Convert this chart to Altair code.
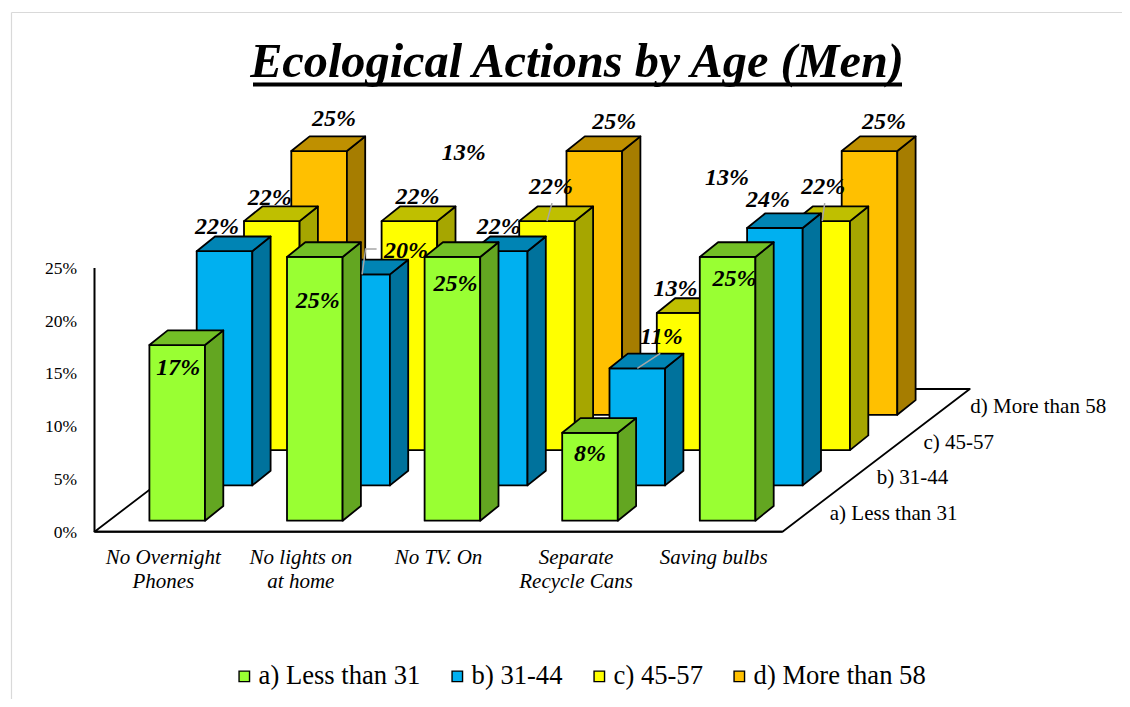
import altair as alt
import pandas as pd

# ---------- chart values ----------
CATEGORIES = ["No Overnight\nPhones", "No lights on\nat home", "No TV. On", "Separate\nRecycle Cans", "Saving bulbs"]
SERIES = ["a) Less than 31", "b) 31-44", "c) 45-57", "d) More than 58"]
VALUES_A = [16.65, 25.0, 25.0, 8.33, 25.0]
VALUES_B = [22.2, 20.0, 22.2, 11.1, 24.4]
VALUES_C = [21.7, 21.7, 21.7, 13.0, 21.7]
VALUES_D = [25.0, 13.0, 25.0, 13.0, 25.0]
LABELS_A = ["17%", "25%", "25%", "8%", "25%"]
LABELS_B = ["22%", "20%", "22%", "11%", "24%"]
LABELS_C = ["22%", "22%", "22%", "13%", "22%"]
LABELS_D = ["25%", "13%", "25%", "13%", "25%"]
Y_TICKS = [0, 5, 10, 15, 20, 25]
TITLE = "Ecological Actions by Age (Men)"

# ---------- colours ----------
FRONT = ["#99FF33", "#00B0F0", "#FFFF00", "#FFC000"]
TOP = ["#73BF26", "#0084B4", "#BFBF00", "#BF9000"]
SIDE = ["#63A621", "#00729C", "#A6A600", "#A67D00"]

# ---------- 3-D projection (one x unit = one category, one y unit = one percent) ----------
PX_X, PX_Y = 137.6, 10.55          # pixels per unit
ORIGIN_X, ORIGIN_Y = 86.5, 523.7   # axis origin inside the view
W, H = 1114, 691
SLOT_X, SLOT_Y = 47.3 / PX_X, 35.3 / PX_Y      # shift between two series rows
BAR_W = 55.6 / PX_X
DEPTH_X, DEPTH_Y = 18.3 / PX_X, 14.7 / PX_Y    # depth of one bar
START_X = 54.9 / PX_X                          # first bar, first row, from the origin
START_Y = 11.0 / PX_Y
FLOOR_X, FLOOR_Y = 187.3 / PX_X, 142.7 / PX_Y  # full depth of the floor
N_CAT = len(CATEGORIES)

xscale = alt.Scale(domain=[-ORIGIN_X / PX_X, (W - ORIGIN_X) / PX_X], range=[0, W], nice=False, zero=False)
yscale = alt.Scale(domain=[(ORIGIN_Y - H) / PX_Y, ORIGIN_Y / PX_Y], range=[H, 0], nice=False, zero=False)
X = alt.X("x:Q", scale=xscale, axis=None)
Y = alt.Y("y:Q", scale=yscale, axis=None, stack=None)

ALL_VALUES = [VALUES_A, VALUES_B, VALUES_C, VALUES_D]
ALL_LABELS = [LABELS_A, LABELS_B, LABELS_C, LABELS_D]

# label shift from the front-top centre of each bar, in pixels
NUDGE = [
    [(1, 23), (3, 44), (3, 27), (0, 21), (7, 22)],
    [(-7.5, -24), (44, -23), (-1, -24), (24, -31), (-7, -28)],
    [(-2, -23), (8, -24), (4, -34), (-9, -24), (1, -34)],
    [(15, -32), (7, -125), (20, -29), (-5, -100), (14.5, -29)],
]
# leader lines: (series, category, path shifts from the front-top centre, in pixels)
LEADERS = [
    (1, 1, [(0, 0), (3.5, -25.5), (14.5, -25.5)]),
    (2, 2, [(0, 0), (5, -18)]),
    (1, 3, [(0, 0), (23, -15)]),
    (2, 4, [(0, 0), (2.5, -18)]),
]


def bar_x0(s, c):
    return START_X + c + s * SLOT_X


def bar_base(s):
    return START_Y + s * SLOT_Y


# ---------- polygons, drawn from the back row to the front row ----------
rows = []
pid = 0


def add(points, fill):
    global pid
    pid += 1
    for px, py, py2 in points:
        rows.append({"poly": pid, "x": px, "y": py, "y2": py2, "fill": fill})


# floor
add([(0, 0, 0), (FLOOR_X, 0, FLOOR_Y), (N_CAT, 0, FLOOR_Y), (N_CAT + FLOOR_X, FLOOR_Y, FLOOR_Y)], "#FFFFFF")
for s in reversed(range(len(SERIES))):
    for c in range(N_CAT):
        x0 = bar_x0(s, c)
        x1 = x0 + BAR_W
        b = bar_base(s)
        t = b + ALL_VALUES[s][c]
        add([(x0, b, t), (x1, b, t)], FRONT[s])
        add([(x1, b, t), (x1 + DEPTH_X, b + DEPTH_Y, t + DEPTH_Y)], SIDE[s])
        add([(x0, t, t), (x0 + DEPTH_X, t, t + DEPTH_Y), (x1, t, t + DEPTH_Y), (x1 + DEPTH_X, t + DEPTH_Y, t + DEPTH_Y)], TOP[s])
polys = pd.DataFrame(rows)

bars = alt.Chart(polys).mark_area(orient="vertical", stroke="#000000", strokeWidth=1.8, strokeJoin="round").encode(
    x=X,
    y=Y,
    y2="y2:Q",
    detail="poly:N",
    fill=alt.Fill("fill:N", scale=None, legend=None),
)

# ---------- value axis ----------
axis_line = alt.Chart(pd.DataFrame({"x": [0], "y": [0], "y2": [max(Y_TICKS)]})).mark_rule(
    color="#000000", strokeWidth=2
).encode(x=X, y=Y, y2="y2:Q")
tick_df = pd.DataFrame({
    "x": [-17.5 / PX_X] * len(Y_TICKS),
    "y": Y_TICKS,
    "t": [f"{v}%" for v in Y_TICKS],
})
tick_labels = alt.Chart(tick_df).mark_text(
    font="Liberation Serif", fontSize=17.5, color="#000000", align="right", baseline="middle", dy=1
).encode(x=X, y=Y, text="t:N")
floor_front = alt.Chart(pd.DataFrame({"x": [0, N_CAT], "y": [0, 0]})).mark_line(color="#000000", strokeWidth=2).encode(x=X, y=Y)

# ---------- data labels ----------
lab = []
for s in range(len(SERIES)):
    for c in range(N_CAT):
        nx, ny = NUDGE[s][c]
        lab.append({
            "x": bar_x0(s, c) + BAR_W / 2 + nx / PX_X,
            "y": bar_base(s) + ALL_VALUES[s][c] - ny / PX_Y,
            "t": ALL_LABELS[s][c],
            "o": s,
        })
data_labels = alt.Chart(pd.DataFrame(lab)).mark_text(
    font="Liberation Serif", fontSize=24, fontWeight="bold", fontStyle="italic", color="#000000", baseline="middle"
).encode(x=X, y=Y, text="t:N")

# ---------- leader lines ----------
lead = []
for i, (s, c, path) in enumerate(LEADERS):
    for j, (nx, ny) in enumerate(path):
        lead.append({
            "id": i,
            "j": j,
            "x": bar_x0(s, c) + BAR_W / 2 + nx / PX_X,
            "y": bar_base(s) + ALL_VALUES[s][c] - ny / PX_Y,
        })
leaders = alt.Chart(pd.DataFrame(lead)).mark_line(color="#A6A6A6", strokeWidth=1.5).encode(
    x=X, y=Y, detail="id:N", order="j:Q"
)

# ---------- category and depth labels ----------
cat_df = pd.DataFrame({"x": [c + 0.5 for c in range(N_CAT)], "y": [-1.45] * N_CAT, "t": CATEGORIES})
cat_labels = alt.Chart(cat_df).mark_text(
    font="Liberation Serif", fontSize=21, fontStyle="italic", color="#000000", baseline="top",
    align="center", lineBreak="\n", lineHeight=24,
).encode(x=X, y=Y, text="t:N")

depth_df = pd.DataFrame({
    "x": [N_CAT + 47.3 / PX_X + s * FLOOR_X / 4 for s in range(len(SERIES))],
    "y": [1.67 + s * FLOOR_Y / 4 for s in range(len(SERIES))],
    "t": SERIES,
})
depth_labels = alt.Chart(depth_df).mark_text(
    font="Liberation Serif", fontSize=21, color="#000000", align="left", baseline="middle"
).encode(x=X, y=Y, text="t:N")

# ---------- legend ----------
legend_df = pd.DataFrame({"series": SERIES, "x": [0] * 4, "y": [0] * 4})
legend_layer = alt.Chart(legend_df).mark_square(size=0, opacity=0).encode(
    x=X,
    y=Y,
    fill=alt.Fill(
        "series:N",
        scale=alt.Scale(domain=SERIES, range=FRONT),
        legend=alt.Legend(
            orient="none", legendX=223, legendY=655, direction="horizontal", columns=4, title=None,
            symbolType="square", symbolSize=110, symbolStrokeColor="#000000", symbolStrokeWidth=1.4,
            symbolOpacity=1, labelFont="Liberation Serif", labelFontSize=26.6, labelColor="#000000",
            columnPadding=23, labelOffset=1, labelLimit=300,
        ),
    ),
)

# ---------- frame and title underline ----------
frame_top = alt.Chart(pd.DataFrame({"k": [0]})).mark_rule(color="#D9D9D9", strokeWidth=1.2).encode(
    x=alt.value(3.5), x2=alt.value(W), y=alt.value(4.5))
frame_left = alt.Chart(pd.DataFrame({"k": [0]})).mark_rule(color="#D9D9D9", strokeWidth=1.2).encode(
    x=alt.value(3.5), y=alt.value(4.5), y2=alt.value(H))
underline = alt.Chart(pd.DataFrame({"k": [0]})).mark_rule(color="#000000", strokeWidth=4).encode(
    x=alt.value(245), x2=alt.value(894), y=alt.value(76.5))

chart = alt.layer(
    frame_top, frame_left, axis_line, tick_labels, bars, floor_front, leaders, data_labels, cat_labels,
    depth_labels, underline, legend_layer,
).resolve_scale(fill="independent").properties(
    width=W,
    height=H,
    padding=0,
    autosize=alt.AutoSizeParams(type="none"),
    background="#FFFFFF",
    title=alt.TitleParams(
        TITLE, font="Liberation Serif", fontSize=48.3, fontWeight="bold", fontStyle="italic", color="#000000",
        anchor="middle", baseline="alphabetic", offset=-117, dx=12,
    ),
).configure_view(stroke=None)

chart.save("out.html", embed_options={"renderer": "svg", "actions": False})
